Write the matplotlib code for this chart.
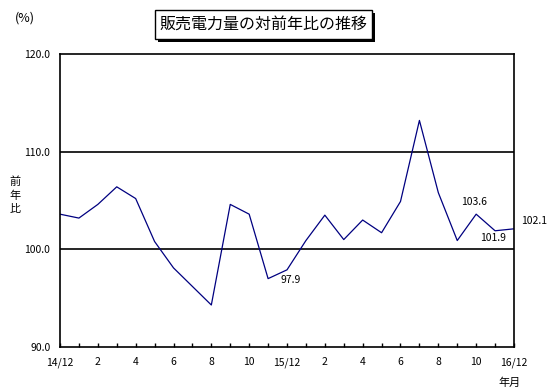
import matplotlib.pyplot as plt
from matplotlib.patches import Rectangle

plt.rcParams['font.family'] = ['Noto Sans CJK JP', 'DejaVu Sans']

# monthly ratio to the same month of the previous year (%), 14/12 .. 16/12
values = [103.6, 103.2, 104.6, 106.4, 105.2, 100.8, 98.1, 96.2, 94.3,
          104.6, 103.6, 97.0, 97.9, 100.9, 103.5, 101.0, 103.0, 101.7,
          104.9, 113.2, 105.8, 100.9, 103.6, 101.9, 102.1]
tick_labels = ['14/12', '2', '4', '6', '8', '10', '15/12',
               '2', '4', '6', '8', '10', '16/12']
# (index, text offset in points)
annotated = [(12, (3, -7.4)), (22, (-1.4, 8.9)), (23, (-1.4, -5.5)), (24, (14.4, 5.5))]

W, H = 558, 392
fig = plt.figure(figsize=(W / 100, H / 100), dpi=100)
ax = fig.add_axes([60 / W, 1 - 347 / H, 454 / W, 293 / H])

x = list(range(len(values)))
ax.plot(x, values, color='#000080', linewidth=0.9)

ax.set_xlim(0, len(values) - 1)
ax.set_ylim(90, 120)
ax.set_yticks([90, 100, 110, 120])
ax.set_yticklabels(['90.0', '100.0', '110.0', '120.0'], fontsize=7.5)
ax.tick_params(axis='y', length=0, pad=7)
ax.set_xticks(x, minor=True)
ax.set_xticks(x[::2])
ax.set_xticklabels(tick_labels, fontsize=7.5)
ax.tick_params(axis='x', which='both', direction='in', length=3, width=1, pad=7.5)
for y in (100, 110):
    ax.axhline(y, color='black', linewidth=1.2, zorder=1)
for s in ax.spines.values():
    s.set_linewidth(1.2)

for i, off in annotated:
    ax.annotate(f'{values[i]:.1f}', (i, values[i]), xytext=off,
                textcoords='offset points', ha='center', va='center', fontsize=7.5)

# titles and axis captions
fig.patches.append(Rectangle((158 / W, 1 - 42 / H), 217 / W, 29 / H,
                             transform=fig.transFigure, facecolor='black',
                             edgecolor='none'))
fig.patches.append(Rectangle((155 / W, 1 - 39 / H), 217 / W, 29 / H,
                             transform=fig.transFigure, facecolor='white',
                             edgecolor='black', linewidth=1))
fig.text(263.5 / W, 1 - 24.5 / H, '販売電力量の対前年比の推移', fontsize=11.5,
         ha='center', va='center')
fig.text(25 / W, 1 - 18 / H, '(%)', fontsize=9, ha='center', va='center')
fig.text(15 / W, 1 - 195 / H, '前\n年\n比', fontsize=8, ha='center',
         va='center', linespacing=1.4)
fig.text(510 / W, 1 - 383 / H, '年月', fontsize=8, ha='center', va='center')

fig.savefig('out.png', dpi=100)
